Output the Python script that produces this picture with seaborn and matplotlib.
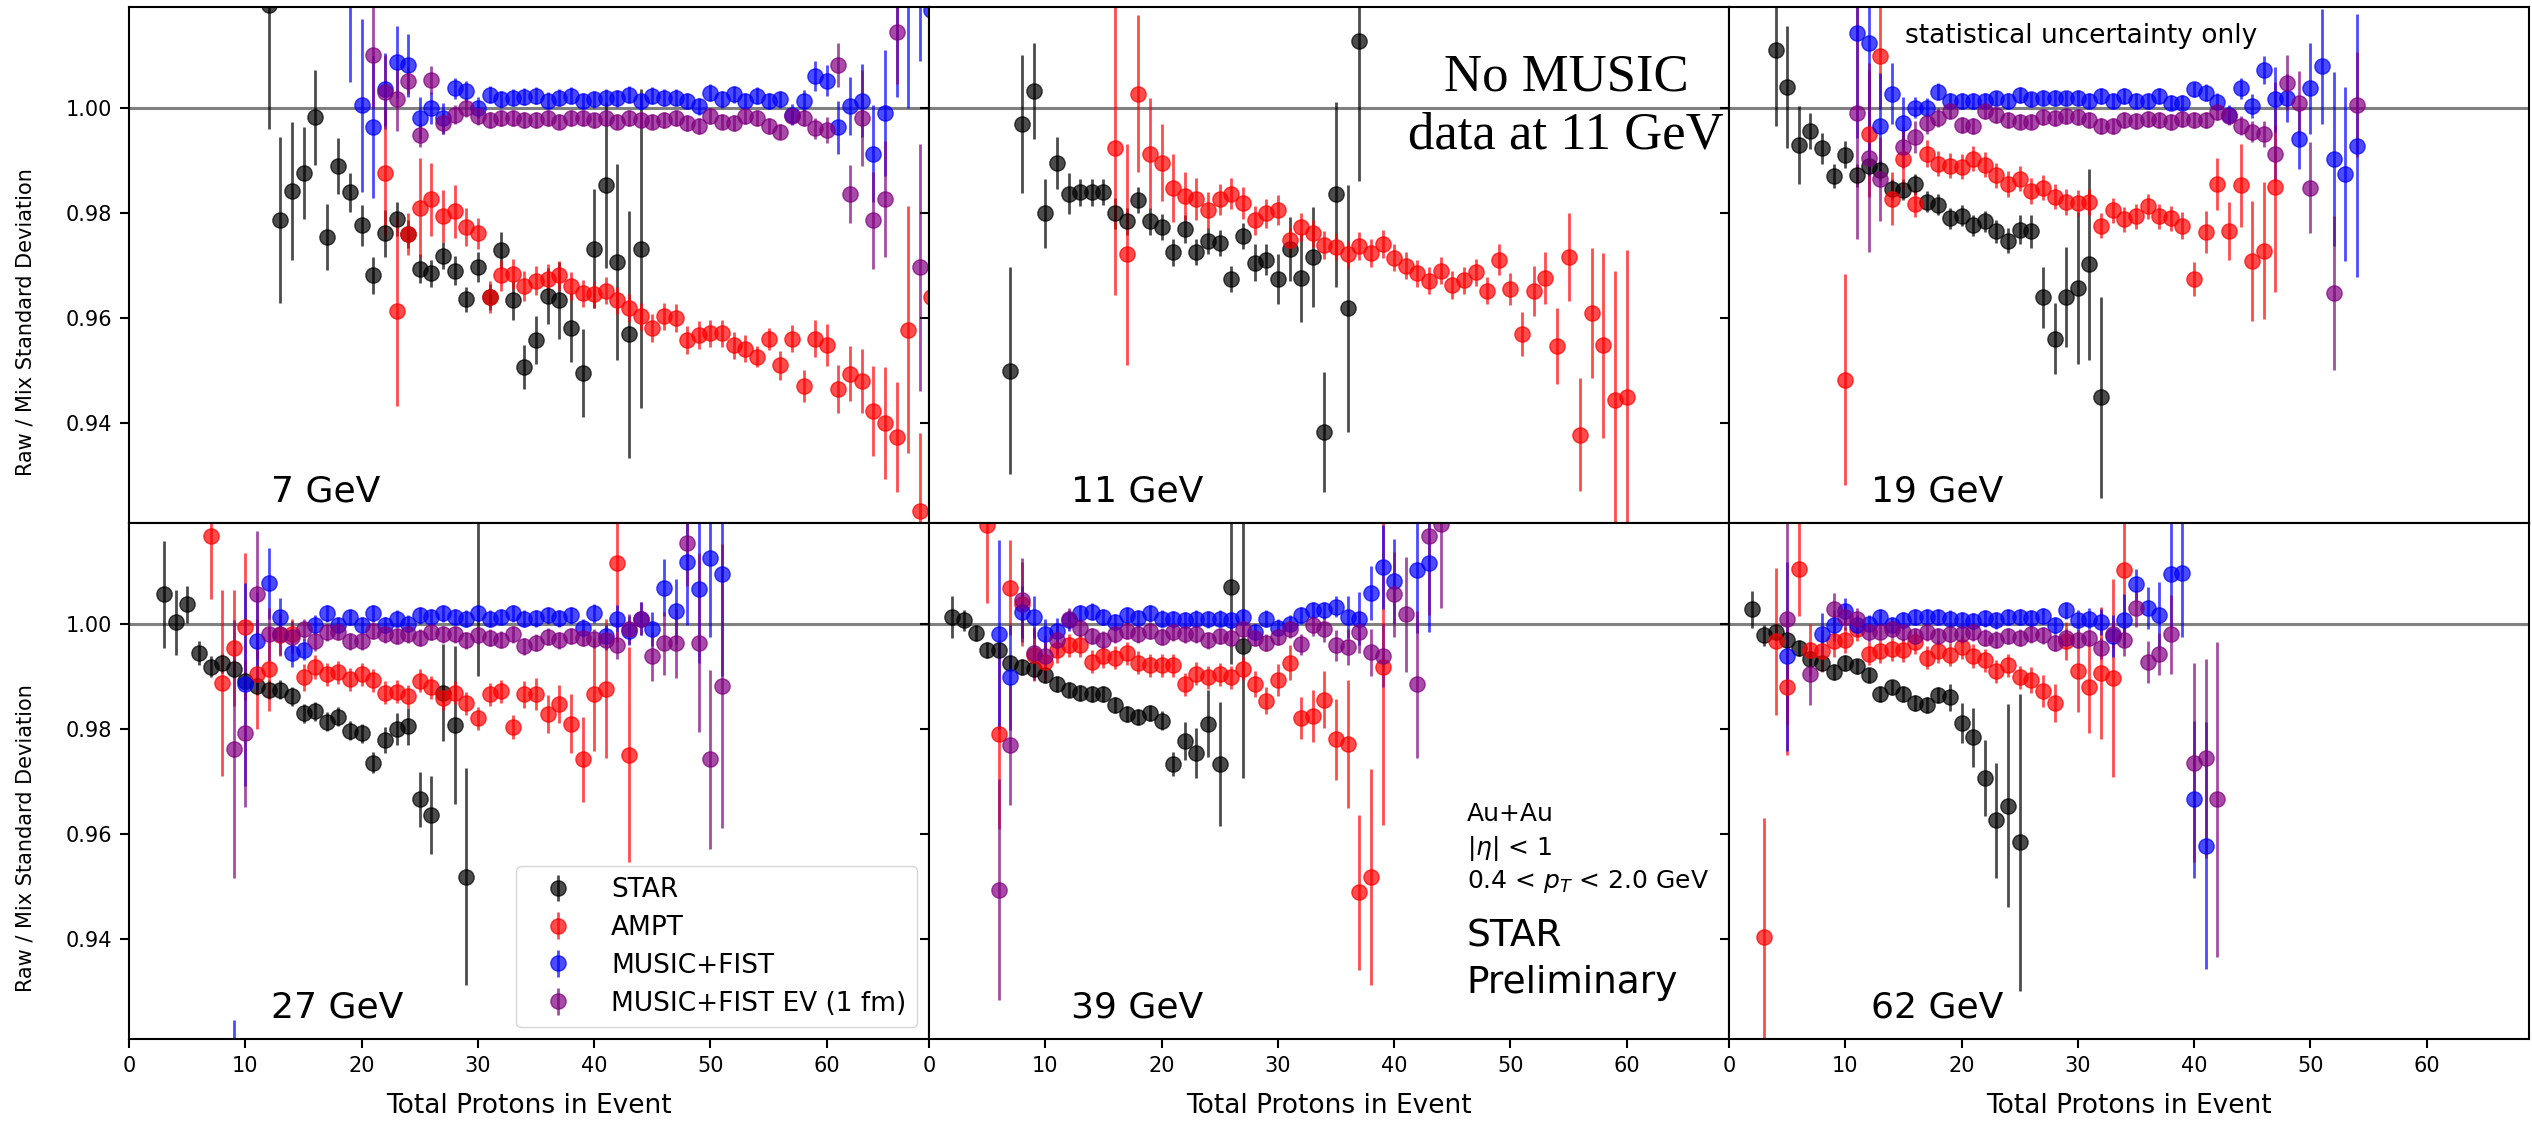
import matplotlib
matplotlib.use("Agg")
import matplotlib.pyplot as plt
import pandas as pd
import seaborn as sns

energies = ["7 GeV", "11 GeV", "19 GeV", "27 GeV", "39 GeV", "62 GeV"]
models = ["STAR", "AMPT", "MUSIC+FIST", "MUSIC+FIST EV (1 fm)"]
palette = {"STAR": "black", "AMPT": "red", "MUSIC+FIST": "blue", "MUSIC+FIST EV (1 fm)": "purple"}

x_ticks = [0, 10, 20, 30, 40, 50, 60]
y_ticks = [0.94, 0.96, 0.98, 1.00]

# ---------------- 7 GeV ----------------
n_star_7 = [12, 13, 14, 15, 16, 17, 18, 19, 20, 21, 22, 23, 24, 25, 26, 27, 28, 29, 30, 31, 32, 33, 34, 35, 36, 37, 38, 39, 40, 41, 42, 43, 44]
y_star_7 = [1.0195, 0.9786, 0.9842, 0.9876, 0.9982, 0.9755, 0.9889, 0.9839, 0.9777, 0.9681, 0.9761, 0.9788, 0.9760, 0.9694, 0.9685, 0.9719, 0.9690, 0.9636, 0.9697, 0.9640, 0.9729, 0.9634, 0.9507, 0.9558, 0.9642, 0.9634, 0.9582, 0.9495, 0.9732, 0.9853, 0.9707, 0.9569, 0.9732]
e_star_7 = [0.0235, 0.0158, 0.0132, 0.0088, 0.0090, 0.0063, 0.0053, 0.0037, 0.0039, 0.0035, 0.0045, 0.0032, 0.0026, 0.0027, 0.0026, 0.0026, 0.0028, 0.0024, 0.0029, 0.0025, 0.0034, 0.0037, 0.0042, 0.0045, 0.0053, 0.0073, 0.0065, 0.0084, 0.0113, 0.0158, 0.0187, 0.0235, 0.0303]

n_ampt_7 = [22, 23, 24, 25, 26, 27, 28, 29, 30, 31, 32, 33, 34, 35, 36, 37, 38, 39, 40, 41, 42, 43, 44, 45, 46, 47, 48, 49, 50, 51, 52, 53, 54, 55, 56, 57, 58, 59, 60, 61, 62, 63, 64, 65, 66, 67, 68, 69]
y_ampt_7 = [0.9876, 0.9613, 0.9760, 0.9810, 0.9826, 0.9794, 0.9803, 0.9773, 0.9761, 0.9640,
            0.9681, 0.9684, 0.9661, 0.9671, 0.9674, 0.9681, 0.9661, 0.9647, 0.9645, 0.9652,
            0.9634, 0.9619, 0.9603, 0.9581, 0.9603, 0.9600, 0.9558, 0.9568, 0.9571, 0.9571,
            0.9548, 0.9542, 0.9526, 0.9561, 0.9510, 0.9561, 0.9471, 0.9561, 0.9548, 0.9465,
            0.9494, 0.9481, 0.9423, 0.9400, 0.9374, 0.9578, 0.9232, 0.9640]
e_ampt_7 = [0.0120, 0.0180, 0.0040, 0.0094, 0.0070, 0.0050, 0.0050, 0.0036, 0.0030, 0.0030,
            0.0030, 0.0028, 0.0028, 0.0028, 0.0028, 0.0028, 0.0026, 0.0026, 0.0026, 0.0026,
            0.0026, 0.0026, 0.0026, 0.0026, 0.0026, 0.0026, 0.0026, 0.0026, 0.0026, 0.0026,
            0.0026, 0.0026, 0.0020, 0.0021, 0.0027, 0.0026, 0.0030, 0.0036, 0.0040, 0.0045,
            0.0052, 0.0061, 0.0085, 0.0106, 0.0105, 0.0235, 0.0150, 0.0200]

n_music_7 = [19, 20, 21, 22, 23, 24, 25, 26, 27, 28, 29, 30, 31, 32, 33, 34, 35, 36, 37, 38, 39, 40, 41, 42, 43, 44, 45, 46, 47, 48, 49, 50, 51, 52, 53, 54, 55, 56, 57, 58, 59, 60, 61, 62, 63, 64, 65, 66, 67, 68, 69]
y_music_7 = [1.0220, 1.0005, 0.9963, 1.0035, 1.0087, 1.0081, 0.9981, 1.0000, 0.9980, 1.0037,
             1.0032, 1.0000, 1.0025, 1.0016, 1.0019, 1.0021, 1.0023, 1.0014, 1.0019, 1.0023,
             1.0013, 1.0016, 1.0019, 1.0018, 1.0025, 1.0013, 1.0023, 1.0019, 1.0019, 1.0013,
             1.0003, 1.0029, 1.0016, 1.0026, 1.0013, 1.0023, 1.0013, 1.0016, 0.9987, 1.0014,
             1.0061, 1.0052, 0.9963, 1.0003, 1.0014, 0.9913, 0.9990, 1.0220, 1.0220, 1.0250,
             1.0187]
e_music_7 = [0.0170, 0.0165, 0.0135, 0.0070, 0.0068, 0.0060, 0.0040, 0.0030, 0.0030, 0.0020,
             0.0020, 0.0020, 0.0016, 0.0016, 0.0016, 0.0016, 0.0016, 0.0016, 0.0016, 0.0016,
             0.0016, 0.0016, 0.0016, 0.0016, 0.0016, 0.0016, 0.0016, 0.0016, 0.0016, 0.0016,
             0.0016, 0.0016, 0.0016, 0.0016, 0.0016, 0.0016, 0.0016, 0.0016, 0.0020, 0.0020,
             0.0028, 0.0030, 0.0050, 0.0055, 0.0070, 0.0093, 0.0120, 0.0200, 0.0220, 0.0160,
             0.0100]

n_ev_7 = [21, 22, 23, 24, 25, 26, 27, 28, 29, 30, 31, 32, 33, 34, 35, 36, 37, 38, 39, 40, 41, 42, 43, 44, 45, 46, 47, 48, 49, 50, 51, 52, 53, 54, 55, 56, 57, 58, 59, 60, 61, 62, 63, 64, 65, 66, 68]
y_ev_7 = [1.0100, 1.0030, 1.0016, 1.0052, 0.9948, 1.0053, 0.9971, 0.9987, 1.0000, 0.9984,
          0.9977, 0.9981, 0.9981, 0.9977, 0.9977, 0.9981, 0.9974, 0.9981, 0.9981, 0.9976,
          0.9981, 0.9974, 0.9981, 0.9977, 0.9974, 0.9977, 0.9981, 0.9971, 0.9965, 0.9984,
          0.9974, 0.9971, 0.9984, 0.9981, 0.9965, 0.9955, 0.9984, 0.9981, 0.9961, 0.9958,
          1.0081, 0.9836, 0.9981, 0.9786, 0.9826, 1.0145, 0.9697]
e_ev_7 = [0.0100, 0.0070, 0.0060, 0.0026, 0.0023, 0.0026, 0.0020, 0.0018, 0.0018, 0.0016,
          0.0015, 0.0015, 0.0015, 0.0015, 0.0015, 0.0015, 0.0015, 0.0015, 0.0015, 0.0015,
          0.0015, 0.0015, 0.0015, 0.0015, 0.0015, 0.0015, 0.0015, 0.0015, 0.0015, 0.0015,
          0.0015, 0.0015, 0.0015, 0.0015, 0.0015, 0.0015, 0.0015, 0.0015, 0.0020, 0.0025,
          0.0042, 0.0055, 0.0092, 0.0092, 0.0110, 0.0100, 0.0235]

# ---------------- 11 GeV ----------------
n_star_11 = [7, 8, 9, 10, 11, 12, 13, 14, 15, 16, 17, 18, 19, 20, 21, 22, 23, 24, 25, 26, 27, 28, 29, 30, 31, 32, 33, 34, 35, 36, 37]
y_star_11 = [0.9500, 0.9969, 1.0032, 0.9799, 0.9895, 0.9837, 0.9839, 0.9839, 0.9840, 0.9799,
             0.9784, 0.9825, 0.9784, 0.9773, 0.9725, 0.9769, 0.9726, 0.9747, 0.9743, 0.9674,
             0.9756, 0.9705, 0.9711, 0.9674, 0.9732, 0.9676, 0.9716, 0.9383, 0.9836, 0.9619,
             1.0127]
e_star_11 = [0.0197, 0.0131, 0.0092, 0.0065, 0.0050, 0.0039, 0.0025, 0.0025, 0.0025, 0.0030,
             0.0025, 0.0025, 0.0025, 0.0025, 0.0025, 0.0027, 0.0025, 0.0025, 0.0025, 0.0025,
             0.0025, 0.0035, 0.0030, 0.0048, 0.0061, 0.0084, 0.0095, 0.0114, 0.0176, 0.0235,
             0.0266]

n_ampt_11 = [16, 17, 18, 19, 20, 21, 22, 23, 24, 25, 26, 27, 28, 29, 30, 31, 32, 33, 34, 35, 36, 37, 38, 39, 40, 41, 42, 43, 44, 45, 46, 47, 48, 49, 50, 51, 52, 53, 54, 55, 56, 57, 58, 59, 60]
y_ampt_11 = [0.9923, 0.9721, 1.0027, 0.9913, 0.9896, 0.9848, 0.9832, 0.9827, 0.9805, 0.9826,
             0.9837, 0.9819, 0.9786, 0.9799, 0.9806, 0.9748, 0.9773, 0.9761, 0.9739, 0.9736,
             0.9721, 0.9737, 0.9724, 0.9741, 0.9715, 0.9700, 0.9685, 0.9671, 0.9690, 0.9663,
             0.9672, 0.9687, 0.9652, 0.9711, 0.9655, 0.9569, 0.9652, 0.9676, 0.9547, 0.9716,
             0.9378, 0.9610, 0.9548, 0.9445, 0.9449]
e_ampt_11 = [0.0280, 0.0210, 0.0150, 0.0106, 0.0074, 0.0065, 0.0045, 0.0040, 0.0035, 0.0030,
             0.0030, 0.0030, 0.0028, 0.0028, 0.0028, 0.0026, 0.0026, 0.0026, 0.0026, 0.0026,
             0.0026, 0.0026, 0.0026, 0.0026, 0.0026, 0.0026, 0.0026, 0.0026, 0.0026, 0.0026,
             0.0026, 0.0026, 0.0026, 0.0029, 0.0031, 0.0042, 0.0048, 0.0050, 0.0073, 0.0084,
             0.0108, 0.0124, 0.0176, 0.0244, 0.0280]

# ---------------- 19 GeV ----------------
n_star_19 = [4, 5, 6, 7, 8, 9, 10, 11, 12, 13, 14, 15, 16, 17, 18, 19, 20, 21, 22, 23, 24, 25, 26, 27, 28, 29, 30, 31, 32]
y_star_19 = [1.0111, 1.0040, 0.9930, 0.9956, 0.9923, 0.9870, 0.9911, 0.9872, 0.9890, 0.9881,
             0.9845, 0.9844, 0.9855, 0.9821, 0.9816, 0.9790, 0.9795, 0.9777, 0.9784, 0.9765,
             0.9747, 0.9768, 0.9765, 0.9640, 0.9561, 0.9640, 0.9657, 0.9702, 0.9449]
e_star_19 = [0.0145, 0.0116, 0.0074, 0.0035, 0.0030, 0.0023, 0.0026, 0.0022, 0.0020, 0.0020,
             0.0020, 0.0020, 0.0020, 0.0020, 0.0020, 0.0020, 0.0020, 0.0020, 0.0020, 0.0022,
             0.0024, 0.0028, 0.0032, 0.0058, 0.0068, 0.0095, 0.0144, 0.0182, 0.0192]

n_ampt_19 = [10, 12, 13, 14, 15, 16, 17, 18, 19, 20, 21, 22, 23, 24, 25, 26, 27, 28, 29, 30, 31, 32, 33, 34, 35, 36, 37, 38, 39, 40, 41, 42, 43, 44, 45, 46, 47]
y_ampt_19 = [0.9483, 0.9950, 1.0098, 0.9827, 0.9902, 0.9818, 0.9913, 0.9894, 0.9890, 0.9888, 0.9903,
             0.9892, 0.9872, 0.9855, 0.9865, 0.9842, 0.9848, 0.9831, 0.9821, 0.9819, 0.9821,
             0.9776, 0.9805, 0.9788, 0.9794, 0.9813, 0.9794, 0.9790, 0.9776, 0.9674, 0.9763,
             0.9855, 0.9765, 0.9853, 0.9708, 0.9728, 0.9850]
e_ampt_19 = [0.0200, 0.0120, 0.0100, 0.0050, 0.0056, 0.0026, 0.0025, 0.0024, 0.0024, 0.0024, 0.0024,
             0.0024, 0.0024, 0.0024, 0.0024, 0.0024, 0.0024, 0.0024, 0.0024, 0.0024, 0.0024,
             0.0024, 0.0024, 0.0024, 0.0024, 0.0024, 0.0024, 0.0024, 0.0026, 0.0032, 0.0040,
             0.0050, 0.0055, 0.0079, 0.0114, 0.0130, 0.0200]

n_music_19 = [11, 12, 13, 14, 15, 16, 17, 18, 19, 20, 21, 22, 23, 24, 25, 26, 27, 28, 29, 30, 31, 32, 33, 34, 35, 36, 37, 38, 39, 40, 41, 42, 43, 44, 45, 46, 47, 48, 49, 50, 51, 52, 53, 54]
y_music_19 = [1.0142, 1.0123, 0.9966, 1.0027, 0.9971, 1.0000, 1.0000, 1.0031, 1.0013, 1.0013,
              1.0013, 1.0014, 1.0018, 1.0013, 1.0025, 1.0016, 1.0019, 1.0019, 1.0018, 1.0019,
              1.0014, 1.0023, 1.0013, 1.0023, 1.0014, 1.0013, 1.0023, 1.0010, 1.0010, 1.0035,
              1.0029, 1.0012, 0.9987, 1.0037, 1.0003, 1.0072, 1.0016, 1.0019, 0.9941, 1.0037,
              1.0079, 0.9903, 0.9874, 0.9928]
e_music_19 = [0.0200, 0.0250, 0.0100, 0.0058, 0.0050, 0.0020, 0.0018, 0.0016, 0.0015, 0.0015,
              0.0015, 0.0015, 0.0015, 0.0015, 0.0015, 0.0015, 0.0015, 0.0015, 0.0015, 0.0015,
              0.0015, 0.0015, 0.0015, 0.0015, 0.0015, 0.0015, 0.0015, 0.0015, 0.0015, 0.0015,
              0.0016, 0.0017, 0.0018, 0.0020, 0.0023, 0.0027, 0.0061, 0.0045, 0.0058, 0.0087,
              0.0110, 0.0166, 0.0166, 0.0250]

n_ev_19 = [11, 12, 13, 15, 16, 17, 18, 19, 20, 21, 22, 23, 24, 25, 26, 27, 28, 29, 30, 31, 32, 33, 34, 35, 36, 37, 38, 39, 40, 41, 42, 43, 44, 45, 46, 47, 48, 49, 50, 52, 54]
y_ev_19 = [0.9990, 0.9905, 0.9865, 0.9926, 0.9945, 0.9971, 0.9981, 0.9994, 0.9968, 0.9966,
           0.9994, 0.9987, 0.9977, 0.9974, 0.9974, 0.9982, 0.9981, 0.9984, 0.9982, 0.9977,
           0.9965, 0.9966, 0.9977, 0.9975, 0.9979, 0.9977, 0.9973, 0.9979, 0.9977, 0.9977,
           0.9992, 0.9984, 0.9966, 0.9955, 0.9950, 0.9913, 1.0048, 1.0010, 0.9848, 0.9648,
           1.0006]
e_ev_19 = [0.0240, 0.0180, 0.0080, 0.0040, 0.0030, 0.0020, 0.0018, 0.0015, 0.0015, 0.0015,
           0.0015, 0.0015, 0.0015, 0.0015, 0.0015, 0.0015, 0.0015, 0.0015, 0.0015, 0.0015,
           0.0015, 0.0015, 0.0015, 0.0015, 0.0015, 0.0015, 0.0015, 0.0015, 0.0015, 0.0015,
           0.0016, 0.0017, 0.0018, 0.0020, 0.0025, 0.0055, 0.0053, 0.0061, 0.0087, 0.0147,
           0.0100]

# ---------------- 27 GeV ----------------
n_star_27 = [3, 4, 5, 6, 7, 8, 9, 10, 11, 12, 13, 14, 15, 16, 17, 18, 19, 20, 21, 22, 23, 24, 25, 26, 27, 28, 29, 30]
y_star_27 = [1.0056, 1.0003, 1.0037, 0.9944, 0.9918, 0.9925, 0.9915, 0.9892, 0.9882, 0.9875,
             0.9875, 0.9862, 0.9830, 0.9834, 0.9814, 0.9823, 0.9797, 0.9792, 0.9736, 0.9779,
             0.9800, 0.9805, 0.9666, 0.9637, 0.9869, 0.9807, 0.9519, 1.0220]
e_star_27 = [0.0102, 0.0062, 0.0036, 0.0023, 0.0020, 0.0018, 0.0018, 0.0018, 0.0018, 0.0018,
             0.0018, 0.0018, 0.0018, 0.0018, 0.0018, 0.0018, 0.0018, 0.0018, 0.0020, 0.0025,
             0.0030, 0.0035, 0.0052, 0.0074, 0.0092, 0.0150, 0.0207, 0.0320]

n_ampt_27 = [7, 8, 9, 10, 11, 12, 13, 14, 15, 16, 17, 18, 19, 20, 21, 22, 23, 24, 25, 26, 27, 28, 29, 30, 31, 32, 33, 34, 35, 36, 37, 38, 39, 40, 41, 42, 43]
y_ampt_27 = [1.0167, 0.9887, 0.9954, 0.9995, 0.9905, 0.9915, 0.9978, 0.9980, 0.9898, 0.9918,
             0.9904, 0.9908, 0.9895, 0.9904, 0.9893, 0.9869, 0.9871, 0.9862, 0.9892, 0.9879,
             0.9859, 0.9869, 0.9849, 0.9820, 0.9866, 0.9872, 0.9803, 0.9866, 0.9867, 0.9828,
             0.9847, 0.9810, 0.9742, 0.9866, 0.9877, 1.0115, 0.9751]
e_ampt_27 = [0.0120, 0.0177, 0.0110, 0.0140, 0.0105, 0.0080, 0.0040, 0.0030, 0.0025, 0.0022,
             0.0022, 0.0022, 0.0022, 0.0022, 0.0022, 0.0022, 0.0022, 0.0022, 0.0022, 0.0022,
             0.0022, 0.0022, 0.0022, 0.0022, 0.0022, 0.0022, 0.0023, 0.0026, 0.0030, 0.0036,
             0.0036, 0.0056, 0.0080, 0.0107, 0.0132, 0.0150, 0.0205]

n_music_27 = [9, 10, 11, 12, 13, 14, 15, 16, 17, 18, 19, 20, 21, 22, 23, 24, 25, 26, 27, 28, 29, 30, 31, 32, 33, 34, 35, 36, 37, 38, 39, 40, 41, 42, 43, 44, 45, 46, 47, 48, 49, 50, 51]
y_music_27 = [0.9050, 0.9885, 0.9967, 1.0077, 1.0013, 0.9944, 0.9951, 0.9998, 1.0020, 0.9998,
              1.0013, 0.9998, 1.0020, 0.9998, 1.0010, 1.0000, 1.0016, 1.0013, 1.0020, 1.0013,
              1.0010, 1.0020, 1.0010, 1.0013, 1.0020, 1.0010, 1.0011, 1.0016, 1.0011, 1.0016,
              0.9993, 1.0020, 0.9977, 1.0010, 0.9987, 1.0010, 0.9990, 1.0069, 1.0024, 1.0118,
              1.0066, 1.0125, 1.0095]
e_music_27 = [0.0196, 0.0193, 0.0093, 0.0067, 0.0036, 0.0026, 0.0020, 0.0018, 0.0016, 0.0016,
              0.0016, 0.0016, 0.0016, 0.0016, 0.0016, 0.0016, 0.0016, 0.0016, 0.0016, 0.0016,
              0.0016, 0.0016, 0.0016, 0.0016, 0.0016, 0.0016, 0.0016, 0.0016, 0.0016, 0.0016,
              0.0017, 0.0018, 0.0020, 0.0025, 0.0028, 0.0031, 0.0033, 0.0054, 0.0062, 0.0120,
              0.0140, 0.0150, 0.0195]

n_ev_27 = [9, 10, 11, 12, 13, 14, 15, 16, 17, 18, 19, 20, 21, 22, 23, 24, 25, 26, 27, 28, 29, 30, 31, 32, 33, 34, 35, 36, 37, 38, 39, 40, 41, 42, 43, 44, 45, 46, 47, 48, 49, 50, 51]
y_ev_27 = [0.9762, 0.9792, 1.0056, 0.9980, 0.9980, 0.9975, 0.9990, 0.9967, 0.9984, 0.9985,
           0.9967, 0.9967, 0.9987, 0.9980, 0.9977, 0.9980, 0.9974, 0.9985, 0.9980, 0.9980,
           0.9969, 0.9978, 0.9974, 0.9970, 0.9980, 0.9957, 0.9964, 0.9976, 0.9969, 0.9977,
           0.9974, 0.9972, 0.9970, 0.9959, 0.9990, 1.0010, 0.9938, 0.9963, 0.9963, 1.0153,
           0.9964, 0.9742, 0.9882]
e_ev_27 = [0.0245, 0.0140, 0.0120, 0.0050, 0.0040, 0.0030, 0.0020, 0.0018, 0.0016, 0.0016,
           0.0016, 0.0016, 0.0016, 0.0016, 0.0016, 0.0016, 0.0016, 0.0016, 0.0016, 0.0016,
           0.0016, 0.0016, 0.0016, 0.0016, 0.0016, 0.0016, 0.0016, 0.0016, 0.0016, 0.0016,
           0.0017, 0.0018, 0.0020, 0.0025, 0.0028, 0.0031, 0.0046, 0.0060, 0.0066, 0.0080,
           0.0170, 0.0170, 0.0270]

# ---------------- 39 GeV ----------------
n_star_39 = [2, 3, 4, 5, 6, 7, 8, 9, 10, 11, 12, 13, 14, 15, 16, 17, 18, 19, 20, 21, 22, 23, 24, 25, 26, 27]
y_star_39 = [1.0013, 1.0007, 0.9982, 0.9951, 0.9950, 0.9926, 0.9918, 0.9915, 0.9902, 0.9885,
             0.9875, 0.9869, 0.9866, 0.9866, 0.9846, 0.9828, 0.9823, 0.9830, 0.9816, 0.9733,
             0.9777, 0.9754, 0.9810, 0.9733, 1.0070, 0.9957]
e_star_39 = [0.0040, 0.0020, 0.0015, 0.0015, 0.0015, 0.0015, 0.0015, 0.0015, 0.0015, 0.0015,
             0.0015, 0.0015, 0.0015, 0.0015, 0.0015, 0.0015, 0.0015, 0.0015, 0.0018, 0.0023,
             0.0036, 0.0048, 0.0064, 0.0118, 0.0146, 0.0250]

n_ampt_39 = [5, 6, 7, 8, 9, 10, 11, 12, 13, 14, 15, 16, 17, 18, 19, 20, 21, 22, 23, 24, 25, 26, 27, 28, 29, 30, 31, 32, 33, 34, 35, 36, 37, 38, 39]
y_ampt_39 = [1.0188, 0.9790, 1.0069, 1.0037, 0.9941, 0.9928, 0.9951, 0.9959, 0.9959, 0.9928,
             0.9938, 0.9936, 0.9944, 0.9926, 0.9921, 0.9921, 0.9921, 0.9885, 0.9905, 0.9898,
             0.9904, 0.9898, 0.9915, 0.9885, 0.9854, 0.9893, 0.9926, 0.9821, 0.9825, 0.9856,
             0.9780, 0.9771, 0.9489, 0.9518, 0.9918]
e_ampt_39 = [0.0148, 0.0180, 0.0090, 0.0080, 0.0050, 0.0035, 0.0025, 0.0022, 0.0022, 0.0022,
             0.0022, 0.0022, 0.0022, 0.0022, 0.0022, 0.0022, 0.0022, 0.0022, 0.0022, 0.0022,
             0.0022, 0.0022, 0.0022, 0.0025, 0.0026, 0.0030, 0.0033, 0.0040, 0.0050, 0.0055,
             0.0078, 0.0122, 0.0148, 0.0205, 0.0300]

n_music_39 = [6, 7, 8, 9, 10, 11, 12, 13, 14, 15, 16, 17, 18, 19, 20, 21, 22, 23, 24, 25, 26, 27, 28, 29, 30, 31, 32, 33, 34, 35, 36, 37, 38, 39, 40, 42, 43]
y_music_39 = [0.9980, 0.9898, 1.0023, 1.0013, 0.9980, 0.9987, 1.0007, 1.0020, 1.0023, 1.0013,
              1.0003, 1.0016, 1.0011, 1.0020, 1.0010, 1.0009, 1.0007, 1.0010, 1.0009, 1.0010,
              1.0007, 1.0013, 0.9984, 1.0010, 0.9993, 1.0000, 1.0016, 1.0026, 1.0026, 1.0033,
              1.0013, 1.0010, 1.0059, 1.0108, 1.0082, 1.0102, 1.0115]
e_music_39 = [0.0180, 0.0100, 0.0050, 0.0040, 0.0030, 0.0025, 0.0020, 0.0016, 0.0016, 0.0016,
              0.0016, 0.0016, 0.0016, 0.0016, 0.0016, 0.0016, 0.0016, 0.0016, 0.0016, 0.0016,
              0.0016, 0.0016, 0.0016, 0.0016, 0.0016, 0.0016, 0.0016, 0.0016, 0.0016, 0.0020,
              0.0040, 0.0050, 0.0052, 0.0080, 0.0080, 0.0120, 0.0130]

n_ev_39 = [6, 7, 8, 9, 10, 11, 12, 13, 14, 15, 16, 17, 18, 19, 20, 21, 22, 23, 24, 25, 26, 27, 28, 29, 30, 31, 32, 33, 34, 35, 36, 37, 38, 39, 40, 41, 42, 43, 44]
y_ev_39 = [0.9494, 0.9770, 1.0046, 0.9944, 0.9938, 0.9970, 1.0010, 0.9993, 0.9977, 0.9970,
           0.9980, 0.9987, 0.9980, 0.9987, 0.9976, 0.9984, 0.9980, 0.9980, 0.9969, 0.9977,
           0.9974, 0.9990, 0.9974, 0.9964, 0.9976, 0.9990, 0.9961, 0.9997, 0.9990, 0.9959,
           0.9956, 0.9984, 0.9946, 0.9939, 1.0056, 1.0018, 0.9885, 1.0167, 1.0190]
e_ev_39 = [0.0210, 0.0115, 0.0080, 0.0050, 0.0040, 0.0030, 0.0020, 0.0017, 0.0016, 0.0016,
           0.0016, 0.0016, 0.0016, 0.0016, 0.0016, 0.0016, 0.0016, 0.0016, 0.0016, 0.0016,
           0.0016, 0.0016, 0.0016, 0.0016, 0.0016, 0.0016, 0.0020, 0.0020, 0.0025, 0.0030,
           0.0035, 0.0040, 0.0045, 0.0060, 0.0080, 0.0110, 0.0140, 0.0150, 0.0160]

# ---------------- 62 GeV ----------------
n_star_62 = [2, 3, 4, 5, 6, 7, 8, 9, 10, 11, 12, 13, 14, 15, 16, 17, 18, 19, 20, 21, 22, 23, 24, 25]
y_star_62 = [1.0028, 0.9978, 0.9984, 0.9970, 0.9954, 0.9934, 0.9926, 0.9908, 0.9925, 0.9919,
             0.9902, 0.9866, 0.9879, 0.9866, 0.9849, 0.9846, 0.9864, 0.9860, 0.9812, 0.9784,
             0.9707, 0.9626, 0.9654, 0.9584]
e_star_62 = [0.0035, 0.0020, 0.0015, 0.0015, 0.0015, 0.0015, 0.0015, 0.0015, 0.0015, 0.0015,
             0.0015, 0.0015, 0.0015, 0.0015, 0.0015, 0.0015, 0.0015, 0.0025, 0.0038, 0.0056,
             0.0072, 0.0110, 0.0193, 0.0283]

n_ampt_62 = [3, 4, 5, 6, 7, 8, 9, 10, 11, 12, 13, 14, 15, 16, 17, 18, 19, 20, 21, 22, 23, 24, 25, 26, 27, 28, 29, 30, 31, 32, 33, 34]
y_ampt_62 = [0.9405, 0.9967, 0.9880, 1.0105, 0.9950, 0.9948, 0.9967, 0.9970, 0.9990, 0.9943,
             0.9948, 0.9952, 0.9950, 0.9965, 0.9936, 0.9948, 0.9941, 0.9956, 0.9939, 0.9931,
             0.9910, 0.9921, 0.9898, 0.9893, 0.9872, 0.9849, 0.9967, 0.9910, 0.9880, 0.9906,
             0.9897, 1.0103]
e_ampt_62 = [0.0225, 0.0140, 0.0130, 0.0090, 0.0050, 0.0040, 0.0030, 0.0025, 0.0022, 0.0022,
             0.0022, 0.0022, 0.0022, 0.0022, 0.0022, 0.0022, 0.0022, 0.0022, 0.0022, 0.0022,
             0.0022, 0.0022, 0.0022, 0.0025, 0.0030, 0.0036, 0.0036, 0.0078, 0.0087, 0.0126,
             0.0189, 0.0130]

n_music_62 = [5, 8, 9, 10, 11, 12, 13, 14, 15, 16, 17, 18, 19, 20, 21, 22, 23, 24, 25, 26, 27, 28, 29, 30, 31, 32, 33, 34, 35, 36, 37, 38, 39, 40, 41]
y_music_62 = [0.9938, 0.9980, 0.9997, 1.0024, 0.9997, 1.0000, 1.0013, 0.9998, 1.0007, 1.0013, 1.0013,
              1.0013, 1.0010, 1.0007, 1.0005, 1.0011, 1.0007, 1.0013, 1.0013, 1.0011, 1.0015,
              0.9997, 1.0026, 1.0007, 1.0010, 1.0003, 0.9977, 1.0007, 1.0075, 1.0030, 1.0016,
              1.0094, 1.0096, 0.9666, 0.9578]
e_music_62 = [0.0180, 0.0040, 0.0030, 0.0025, 0.0020, 0.0016, 0.0016, 0.0016, 0.0016, 0.0016, 0.0016,
              0.0016, 0.0016, 0.0016, 0.0016, 0.0016, 0.0016, 0.0016, 0.0016, 0.0016, 0.0016,
              0.0016, 0.0016, 0.0020, 0.0020, 0.0025, 0.0040, 0.0050, 0.0030, 0.0040, 0.0064,
              0.0100, 0.0120, 0.0150, 0.0235]

n_ev_62 = [5, 7, 9, 10, 11, 12, 13, 14, 15, 16, 17, 18, 19, 20, 21, 22, 23, 24, 25, 26, 27, 28, 29, 30, 31, 32, 33, 34, 35, 36, 37, 38, 40, 41, 42]
y_ev_62 = [1.0010, 0.9905, 1.0028, 1.0013, 1.0010, 0.9984, 0.9985, 0.9990, 0.9984, 0.9977, 0.9984, 0.9977,
           0.9980, 0.9980, 0.9984, 0.9974, 0.9970, 0.9977, 0.9974, 0.9980, 0.9978, 0.9964,
           0.9974, 0.9970, 0.9974, 0.9954, 0.9980, 0.9969, 1.0030, 0.9928, 0.9943, 0.9980,
           0.9736, 0.9744, 0.9666]
e_ev_62 = [0.0200, 0.0060, 0.0030, 0.0025, 0.0020, 0.0018, 0.0016, 0.0016, 0.0016, 0.0016, 0.0016, 0.0016,
           0.0016, 0.0016, 0.0016, 0.0016, 0.0016, 0.0016, 0.0016, 0.0016, 0.0016, 0.0016,
           0.0016, 0.0016, 0.0016, 0.0020, 0.0025, 0.0030, 0.0035, 0.0040, 0.0040, 0.0075,
           0.0190, 0.0190, 0.0300]

series = [
    ("7 GeV", "STAR", n_star_7, y_star_7, e_star_7),
    ("7 GeV", "AMPT", n_ampt_7, y_ampt_7, e_ampt_7),
    ("7 GeV", "MUSIC+FIST", n_music_7, y_music_7, e_music_7),
    ("7 GeV", "MUSIC+FIST EV (1 fm)", n_ev_7, y_ev_7, e_ev_7),
    ("11 GeV", "STAR", n_star_11, y_star_11, e_star_11),
    ("11 GeV", "AMPT", n_ampt_11, y_ampt_11, e_ampt_11),
    ("19 GeV", "STAR", n_star_19, y_star_19, e_star_19),
    ("19 GeV", "AMPT", n_ampt_19, y_ampt_19, e_ampt_19),
    ("19 GeV", "MUSIC+FIST", n_music_19, y_music_19, e_music_19),
    ("19 GeV", "MUSIC+FIST EV (1 fm)", n_ev_19, y_ev_19, e_ev_19),
    ("27 GeV", "STAR", n_star_27, y_star_27, e_star_27),
    ("27 GeV", "AMPT", n_ampt_27, y_ampt_27, e_ampt_27),
    ("27 GeV", "MUSIC+FIST", n_music_27, y_music_27, e_music_27),
    ("27 GeV", "MUSIC+FIST EV (1 fm)", n_ev_27, y_ev_27, e_ev_27),
    ("39 GeV", "STAR", n_star_39, y_star_39, e_star_39),
    ("39 GeV", "AMPT", n_ampt_39, y_ampt_39, e_ampt_39),
    ("39 GeV", "MUSIC+FIST", n_music_39, y_music_39, e_music_39),
    ("39 GeV", "MUSIC+FIST EV (1 fm)", n_ev_39, y_ev_39, e_ev_39),
    ("62 GeV", "STAR", n_star_62, y_star_62, e_star_62),
    ("62 GeV", "AMPT", n_ampt_62, y_ampt_62, e_ampt_62),
    ("62 GeV", "MUSIC+FIST", n_music_62, y_music_62, e_music_62),
    ("62 GeV", "MUSIC+FIST EV (1 fm)", n_ev_62, y_ev_62, e_ev_62),
]

df = pd.concat(
    [pd.DataFrame({"energy": en, "model": m, "protons": n, "ratio": y, "err": e})
     for en, m, n, y, e in series],
    ignore_index=True,
)

sns.set_theme(style="ticks")
plt.rcParams.update({
    "font.family": ["DejaVu Sans"],
    "axes.edgecolor": "black",
    "axes.labelcolor": "black",
    "text.color": "black",
    "xtick.color": "black",
    "ytick.color": "black",
    "axes.linewidth": 1.5,
})


def draw_points(data, x, y, yerr, color=None, label=None, **kws):
    plt.gca().errorbar(data[x], data[y], yerr=data[yerr], fmt="o", color=color,
                       label=label, markersize=11, elinewidth=2.0, capsize=0,
                       alpha=0.7, **kws)


g = sns.FacetGrid(df, col="energy", col_order=energies, col_wrap=3,
                  hue="model", hue_order=models, palette=palette,
                  sharex=True, sharey=True, despine=False, height=4, aspect=1.5)
g.map_dataframe(draw_points, x="protons", y="ratio", yerr="err")
g.set_titles(col_template="")

fig = g.figure
fig.set_size_inches(25.32, 11.24)
fig.subplots_adjust(left=0.051, right=0.9988, bottom=0.0756, top=0.9938,
                    wspace=0, hspace=0)

axes = g.axes.flat
for ax, en in zip(axes, energies):
    ax.axhline(1.0, color="gray", lw=2.2, zorder=1)
    ax.set_xlim(0, 68.8)
    ax.set_ylim(0.921, 1.0192)
    ax.set_xticks(x_ticks)
    ax.set_yticks(y_ticks)
    ax.set_yticklabels([f"{t:.2f}" for t in y_ticks])
    ax.tick_params(direction="out", length=6.5, width=1.5, pad=6, labelsize=15)
    ax.text(0.177, 0.041, en, transform=ax.transAxes, fontsize=26, va="baseline")
    ax.set_xlabel("")
    ax.set_ylabel("")

for ax in (g.axes[3], g.axes[4], g.axes[5]):
    ax.set_xlabel("Total Protons in Event", fontsize=19)
    ax.xaxis.set_label_coords(0.5, -0.105)
for ax in (g.axes[0], g.axes[3]):
    ax.set_ylabel("Raw / Mix Standard Deviation", fontsize=15)
    ax.yaxis.set_label_coords(-0.117, 0.39)

# panel notes
ax11 = g.axes[1]
ax11.text(0.7965, 0.839, "No MUSIC", transform=ax11.transAxes, ha="center",
          va="baseline", fontsize=38, family="Liberation Serif")
ax11.text(0.7965, 0.7256, "data at 11 GeV", transform=ax11.transAxes, ha="center",
          va="baseline", fontsize=38, family="Liberation Serif")

ax19 = g.axes[2]
ax19.text(0.2198, 0.9295, "statistical uncertainty only", transform=ax19.transAxes,
          va="baseline", fontsize=19)

ax39 = g.axes[4]
ax39.text(0.672, 0.4217, "Au+Au", transform=ax39.transAxes, va="baseline", fontsize=18)
ax39.text(0.672, 0.357, r"$|\eta|$ < 1", transform=ax39.transAxes, va="baseline", fontsize=18)
ax39.text(0.672, 0.292, r"0.4 < $p_T$ < 2.0 GeV", transform=ax39.transAxes, va="baseline", fontsize=18)
ax39.text(0.672, 0.1785, "STAR", transform=ax39.transAxes, va="baseline", fontsize=27)
ax39.text(0.672, 0.089, "Preliminary", transform=ax39.transAxes, va="baseline", fontsize=27)

# legend inside the 27 GeV panel
ax27 = g.axes[3]
handles, labels = ax27.get_legend_handles_labels()
ax27.legend(handles, labels, loc="lower right", fontsize=19, handlelength=2.4,
            handletextpad=0.8, borderpad=0.4, labelspacing=0.45,
            bbox_to_anchor=(0.985, 0.023), borderaxespad=0)

fig.savefig("out.png", dpi=100)
